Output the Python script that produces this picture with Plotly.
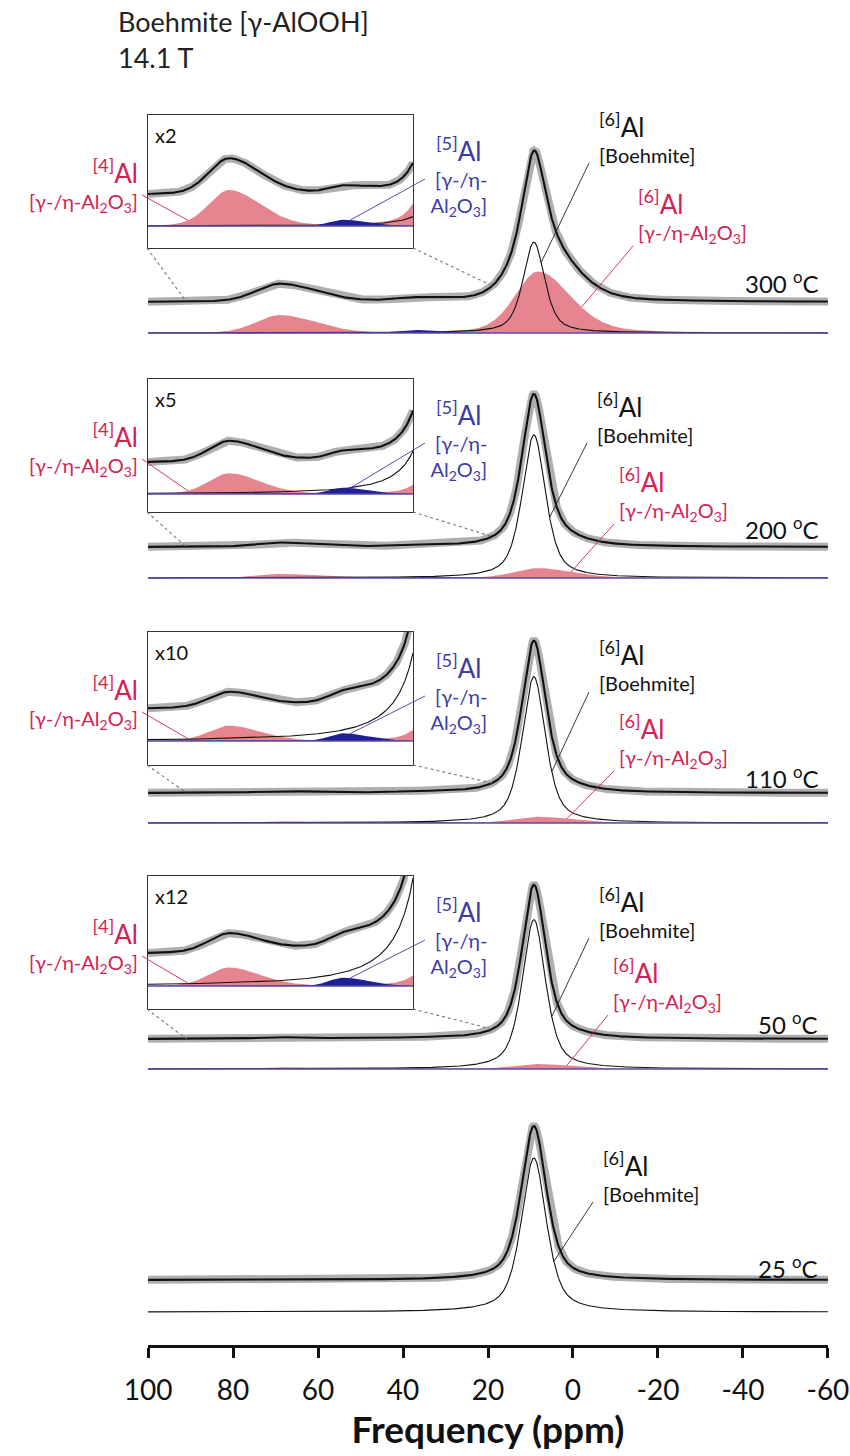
import numpy as np
import plotly.graph_objects as go

# ---------------- 27Al MAS NMR fit of boehmite heated in air (14.1 T) ----------------
temperatures = ["300", "200", "110", "50", "25"]
inset_gain = [2, 5, 10, 12]

# boehmite octahedral site
boehmite_shift = [9.2, 9.2, 9.2, 9.2, 9.2]      # ppm
boehmite_fwhm = [6.0, 6.5, 6.5, 6.5, 7.0]       # ppm
boehmite_height = [59.0, 93.0, 95.0, 97.0, 100.0]  # % of spectrum maximum
boehmite_eta = 0.6

# transition alumina sites: heights per temperature (% of maximum)
al6_height = [40.0, 6.5, 4.0, 3.2, 0.0]
al4_height = [11.7, 2.7, 1.0, 1.0, 0.0]
al5_height = [2.0, 0.8, 0.5, 0.45, 0.0]

# line parameters: shift, HWHM high-ppm side, HWHM low-ppm side, Lorentzian fraction
al6_line = [8.2, 6.5, 9.0, 0.3]
al4_line = [69.0, 6.5, 10.0, 0.2]
al5_line = [38.0, 4.5, 8.0, 0.0]

ppm_ticks = [100, 80, 60, 40, 20, 0, -20, -40, -60]
inset_window = [91, 19]

# ---------------- page geometry and styles ----------------
W, H = 850, 1456
X_LEFT, X_RIGHT = 148, 828
AXIS_Y = 1345
K = 1.54                      # px per % intensity
thick_base = [302, 547, 793, 1039, 1280]
thin_base = [333, 578, 823, 1069, 1312]
temp_label_y = [282, 528, 777, 1023, 1267]
box_left, box_right, box_h = 147, 413, 133
box_top = [115, 379, 632, 876]
box_comp = [226, 494, 741, 986]
INSET_GAP = 31

FONT = "Lato"
PINK = "#E6848F"
RED_TXT = "#D42152"
BLUE_FILL = "#1F1F96"
BLUE_TXT = "#3C3CA5"
BASE_LINE = "#5A4AA8"

LN2 = np.log(2)


def lineshape(x, shift, hw_hi, hw_lo, eta):
    x = np.asarray(x, float)
    w = np.where(x >= shift, hw_hi, hw_lo)
    t = (x - shift) / w
    return eta / (1 + t * t) + (1 - eta) * np.exp(-LN2 * t * t)


def components(i, x):
    hw = boehmite_fwhm[i] / 2
    b = boehmite_height[i] * lineshape(x, boehmite_shift[i], hw, hw, boehmite_eta)
    a6 = al6_height[i] * lineshape(x, *al6_line)
    a4 = al4_height[i] * lineshape(x, *al4_line)
    a5 = al5_height[i] * lineshape(x, *al5_line)
    return b, a6, a4, a5


def main_px_x(ppm):
    return X_LEFT + (100 - ppm) * (X_RIGHT - X_LEFT) / 160


def inset_px_x(ppm):
    return box_left + (inset_window[0] - ppm) / (inset_window[0] - inset_window[1]) * (box_right - box_left)


def paper(xp, yp):
    return (xp - X_LEFT) / (X_RIGHT - X_LEFT), (AXIS_Y - yp) / AXIS_Y


ppm = np.linspace(100, -60, 1601)
fig = go.Figure()


def add_spectrum(x, comps, thick_v, thin_v, scale, xa, ya, fitted):
    b, a6, a4, a5 = comps
    total = b + a6 + a4 + a5
    common = dict(xaxis=xa, yaxis=ya, mode="lines", hoverinfo="skip", showlegend=False)
    if fitted:
        for comp in (a4, a6):
            fig.add_trace(go.Scatter(
                x=np.r_[x, x[::-1]],
                y=np.r_[thin_v + comp * scale, np.full(x.size, thin_v)],
                fill="toself", fillcolor=PINK, line=dict(width=0), **common))
    fig.add_trace(go.Scatter(x=x, y=thin_v + b * scale,
                             line=dict(color="#111", width=1.1), **common))
    if fitted:
        fig.add_trace(go.Scatter(
            x=np.r_[x, x[::-1]],
            y=np.r_[thin_v + a5 * scale, np.full(x.size, thin_v)],
            fill="toself", fillcolor=BLUE_FILL, line=dict(width=0), **common))
        fig.add_trace(go.Scatter(x=[x[0], x[-1]], y=[thin_v, thin_v],
                                 line=dict(color=BASE_LINE, width=1.4), **common))
    fig.add_trace(go.Scatter(x=x, y=thick_v + total * scale,
                             line=dict(color="rgba(95,95,95,0.5)", width=8), **common))
    fig.add_trace(go.Scatter(x=x, y=thick_v + total * scale,
                             line=dict(color="#111", width=2.1), **common))


# main stacked spectra
for i in range(len(temperatures)):
    add_spectrum(ppm, components(i, ppm), AXIS_Y - thick_base[i], AXIS_Y - thin_base[i],
                 K, "x", "y", fitted=al6_height[i] > 0)

# magnified insets
x_in = np.linspace(inset_window[0], inset_window[1], 721)
layout_axes = {}
for j, gain in enumerate(inset_gain):
    n = j + 2
    bottom = box_top[j] + box_h
    comp_v = bottom - box_comp[j]
    add_spectrum(x_in, components(j, x_in), comp_v + INSET_GAP, comp_v, K * gain,
                 f"x{n}", f"y{n}", fitted=True)
    layout_axes[f"xaxis{n}"] = dict(
        domain=[max(0.0, paper(box_left, 0)[0]), paper(box_right, 0)[0]],
        range=inset_window, anchor=f"y{n}", showline=True, mirror=True,
        linecolor="#333", linewidth=1.4, showticklabels=False, ticks="",
        showgrid=False, zeroline=False)
    layout_axes[f"yaxis{n}"] = dict(
        domain=[paper(0, bottom)[1], paper(0, box_top[j])[1]],
        range=[0, box_h], anchor=f"x{n}", showline=True, mirror=True,
        linecolor="#333", linewidth=1.4, showticklabels=False, ticks="",
        showgrid=False, zeroline=False)

annotations = []
shapes = []


def text(xp, yp, s, size, color="#111", xanchor="left", yanchor="middle", align="left"):
    px_, py_ = paper(xp, yp)
    annotations.append(dict(x=px_, y=py_, xref="paper", yref="paper", text=s,
                            showarrow=False, xanchor=xanchor, yanchor=yanchor, align=align,
                            font=dict(family=FONT, size=size, color=color)))


def line(p0, p1, color, width=1.0, dash="solid"):
    x0, y0 = paper(*p0)
    x1, y1 = paper(*p1)
    shapes.append(dict(type="line", xref="paper", yref="paper", x0=x0, y0=y0, x1=x1, y1=y1,
                       line=dict(color=color, width=width, dash=dash)))


def big(s, size=26):
    return f"<span style='font-size:{size}px'>{s}</span>"


# header
text(116, 22, "Boehmite [γ-AlOOH]", 27, "#222")
text(116, 58, "14.1 T", 27, "#222")

AL2O3 = "[γ-/η-Al<sub>2</sub>O<sub>3</sub>]"
boeh_label_y = [137, 417, 666, 912, 1176]
boeh_label_x = [597, 595, 597, 597, 601]
boeh_leader_ppm = [7.5, 5.5, 5.0, 5.0, 4.5]
al6_label_y = [216, 494, 741, 985]
al6_label_x = [636, 617, 617, 611]
al6_leader_ppm = [-2.0, 0.5, 1.5, 1.5]

for i, t in enumerate(temperatures):
    text(820, temp_label_y[i], f"{t} <sup>o</sup>C", 24, "#111", xanchor="right")

    # boehmite site label and leader
    bx, by = boeh_label_x[i], boeh_label_y[i]
    text(bx, by, big("<sup>[6]</sup>Al") + "<br>[Boehmite]", 20, "#111")
    b = components(i, np.array([boeh_leader_ppm[i]]))[0][0]
    line((bx - 8, by + 26), (main_px_x(boeh_leader_ppm[i]), thin_base[i] - b * K), "#222", 0.9)

    if i < 4:
        # octahedral transition-alumina label
        ax_, ay_ = al6_label_x[i], al6_label_y[i]
        text(ax_, ay_, big("<sup>[6]</sup>Al") + "<br>" + AL2O3, 20, RED_TXT)
        a6 = components(i, np.array([al6_leader_ppm[i]]))[1][0]
        line((ax_ - 3, ay_ + 30), (main_px_x(al6_leader_ppm[i]), thin_base[i] - a6 * K), RED_TXT, 0.9)

        # inset decorations
        top = box_top[i]
        bottom = top + box_h
        gain = inset_gain[i]
        comp_px = box_comp[i]
        text(153, top + 20, f"x{gain}", 20, "#111")

        text(140, top + 70, big("<sup>[4]</sup>Al") + "<br>" + AL2O3, 20, RED_TXT,
             xanchor="right", align="right")
        a4 = components(i, np.array([80.0]))[2][0]
        line((142, top + 80), (inset_px_x(80.0), comp_px - a4 * K * gain), RED_TXT, 0.9)

        text(428, top + 61, big("<sup>[5]</sup>Al") + "<br> [γ-/η-<br>Al<sub>2</sub>O<sub>3</sub>]",
             20, BLUE_TXT, align="center")
        a5 = components(i, np.array([36.0]))[3][0]
        line((425, top + 64), (inset_px_x(36.0), comp_px - a5 * K * gain), BLUE_TXT, 0.9)

        # dotted connectors from the inset window to the spectrum
        for edge_px, edge_ppm in ((box_left, inset_window[0]), (box_right, inset_window[1])):
            tot = sum(c[0] for c in components(i, np.array([float(edge_ppm)])))
            line((edge_px, bottom), (main_px_x(edge_ppm), thick_base[i] - tot * K),
                 "#777", 1.1, "dot")

fig.update_layout(
    width=W, height=H, autosize=False,
    margin=dict(l=X_LEFT, r=W - X_RIGHT, t=0, b=H - AXIS_Y),
    paper_bgcolor="white", plot_bgcolor="white",
    showlegend=False,
    font=dict(family=FONT, color="#111"),
    xaxis=dict(range=[100.02, -60.02], tickvals=ppm_ticks,
               ticktext=[str(v) for v in ppm_ticks],
               ticks="outside", ticklen=10, tickwidth=2.5, tickcolor="#111",
               showline=True, linewidth=3, linecolor="#111",
               showgrid=False, zeroline=False, ticklabelstandoff=8,
               tickfont=dict(family=FONT, size=28, color="#111"),
               title=dict(text="<b>Frequency (ppm)</b>", standoff=12,
                          font=dict(family=FONT, size=37, color="#111")),
               automargin=False, anchor="y", domain=[0, 1]),
    yaxis=dict(range=[0, AXIS_Y], visible=False, domain=[0, 1]),
    annotations=annotations,
    shapes=shapes,
    **layout_axes,
)

fig.write_html("out.html")
